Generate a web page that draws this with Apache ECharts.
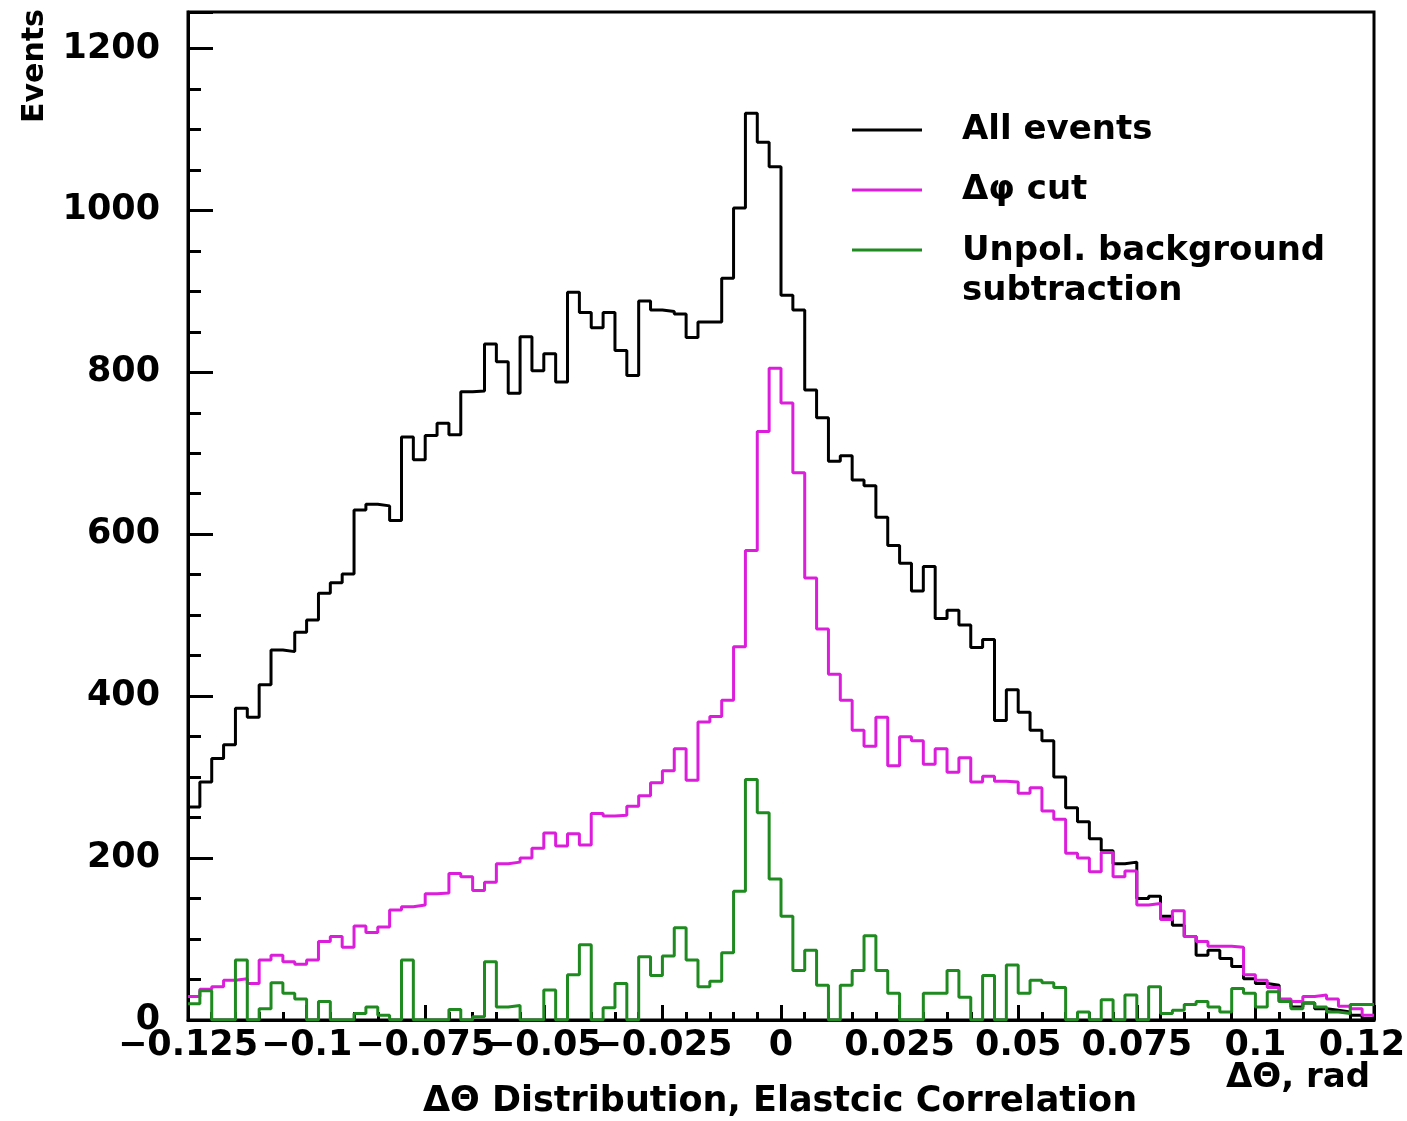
<!DOCTYPE html>
<html>
<head>
<meta charset="utf-8">
<script src="https://cdn.jsdelivr.net/npm/echarts@6/dist/echarts.min.js"></script>
<style>
html,body{margin:0;padding:0;background:#fff;}
#chart{width:1407px;height:1121px;}
</style>
</head>
<body>
<div id="chart"></div>
<script>
// Histogram range (100 bins)
const histMin = -0.125;
const histMax = 0.125;
const xTickLabels = ['\u22120.125','\u22120.1','\u22120.075','\u22120.05','\u22120.025','0','0.025','0.05','0.075','0.1','0.125'];
const yTickLabels = ['0','200','400','600','800','1000','1200'];

const allEvents = [
 263,294,323,340,385,374,414,457,455,479,
 494,527,540,551,630,637,635,617,720,692,
 722,737,723,776,777,835,813,774,844,802,
 823,788,899,874,855,874,827,796,888,877,
 875,872,843,862,862,916,1003,1120,1084,1054,
 895,877,778,744,690,697,667,660,621,586,
 564,530,560,496,506,488,460,470,370,408,
 380,358,345,300,262,245,224,209,193,195,
 150,153,128,117,103,80,86,76,66,51,
 45,43,23,16,21,14,12,10,6,2
];
const phiCut = [
 29,38,41,49,51,45,74,80,72,69,
 74,97,103,90,116,108,115,136,140,142,
 156,157,181,177,160,170,193,195,200,212,
 231,215,230,216,255,252,253,264,277,293,
 308,335,296,368,375,395,461,580,727,805,
 762,676,546,483,427,395,358,338,374,314,
 350,345,316,335,306,324,294,301,295,294,
 280,287,258,248,206,200,183,207,177,184,
 142,144,124,135,103,97,91,91,90,56,
 49,40,26,23,29,31,26,17,14,6
];
const unpolBg = [
 20,36,0,0,74,0,14,46,33,26,
 0,23,0,0,8,16,6,0,74,0,
 0,0,13,0,4,72,16,18,0,0,
 37,0,56,93,0,15,45,0,78,55,
 79,114,74,41,48,83,159,297,256,174,
 128,61,86,43,0,43,61,104,61,33,
 0,0,33,33,61,28,0,55,0,68,
 33,49,46,40,0,10,0,25,0,31,
 0,41,8,12,19,23,16,10,39,33,
 16,35,23,14,21,16,10,8,19,19
];

const seriesNames = ['All events', '\u0394\u03c6 cut', 'Unpol. background'];
const seriesColors = ['#000000', '#dc1edc', '#1f8a1f'];

function toSteps(vals) {
  const n = vals.length;
  const w = (histMax - histMin) / n;
  const pts = vals.map((v, i) => [histMin + i * w, v]);
  pts.push([histMax, vals[n - 1]]);
  return pts;
}

const FONT = 'DejaVu Sans';
const chart = echarts.init(document.getElementById('chart'));
const yMax = 1245;

chart.setOption({
  animation: false,
  backgroundColor: '#fff',
  grid: { left: 188, right: 33, top: 12, bottom: 101, containLabel: false, outerBoundsMode: 'none', show: true, borderColor: '#000', borderWidth: 3, backgroundColor: 'transparent' },
  xAxis: {
    type: 'value', min: histMin, max: histMax, interval: 0.025,
    axisLine: { show: true, onZero: false, lineStyle: { color: '#000', width: 3 } },
    axisTick: { show: true, inside: true, length: 15, lineStyle: { color: '#000', width: 3 } },
    minorTick: { show: true, splitNumber: 5, length: 8, lineStyle: { color: '#000', width: 3 } },
    splitLine: { show: false },
    axisLabel: {
      show: true, margin: 8, color: '#000', fontFamily: FONT, fontWeight: 'bold', fontSize: 35,
      showMinLabel: true, showMaxLabel: true, hideOverlap: false,
      formatter: function (v) {
        const k = Math.round((v - histMin) / 0.025);
        return xTickLabels[k] !== undefined ? xTickLabels[k] : '';
      }
    }
  },
  yAxis: [{
    type: 'value', min: 0, max: yMax, interval: 200,
    axisLine: { show: true, onZero: false, lineStyle: { color: '#000', width: 3 } },
    axisTick: { show: true, inside: true, length: 25, lineStyle: { color: '#000', width: 3 } },
    splitLine: { show: false },
    axisLabel: {
      margin: 28, color: '#000', fontFamily: FONT, fontWeight: 'bold', fontSize: 35,
      formatter: function (v) {
        const k = Math.round(v / 200);
        return (Math.abs(v - k * 200) < 1e-6 && yTickLabels[k] !== undefined) ? yTickLabels[k] : '';
      }
    }
  }, {
    type: 'value', min: 0, max: yMax, interval: 50, position: 'left', offset: 0,
    axisLine: { show: false, onZero: false },
    axisTick: { show: true, inside: true, length: 13, lineStyle: { color: '#000', width: 3 } },
    axisLabel: { show: false },
    splitLine: { show: false }
  }],
  series: [0, 1, 2].map(function (k) {
    const vals = [allEvents, phiCut, unpolBg][k];
    return {
      name: seriesNames[k], type: 'line', step: 'end', symbol: 'none',
      data: toSteps(vals), yAxisIndex: 0, clip: true,
      lineStyle: { color: seriesColors[k], width: 3 }, z: 3 + k
    };
  }),
  graphic: [
    { type: 'line', shape: { x1: 852, y1: 130, x2: 922, y2: 130 }, style: { stroke: seriesColors[0], lineWidth: 3 } },
    { type: 'line', shape: { x1: 852, y1: 190, x2: 922, y2: 190 }, style: { stroke: seriesColors[1], lineWidth: 3 } },
    { type: 'line', shape: { x1: 852, y1: 250, x2: 922, y2: 250 }, style: { stroke: seriesColors[2], lineWidth: 3 } },
    { type: 'text', left: 962, top: 113, style: { text: 'All events', font: 'bold 34px "DejaVu Sans"', fill: '#000' } },
    { type: 'text', left: 962, top: 173, style: { text: '\u0394\u03c6 cut', font: 'bold 34px "DejaVu Sans"', fill: '#000' } },
    { type: 'text', left: 962, top: 234, style: { text: 'Unpol. background', font: 'bold 34px "DejaVu Sans"', fill: '#000' } },
    { type: 'text', left: 962, top: 274, style: { text: 'subtraction', font: 'bold 34px "DejaVu Sans"', fill: '#000' } },
    { type: 'text', x: 35, y: 66, rotation: Math.PI / 2, style: { text: 'Events', font: 'bold 30px "DejaVu Sans"', fill: '#000', textAlign: 'center', textVerticalAlign: 'middle' } },
    { type: 'text', x: 1370, y: 1078, style: { text: '\u0394\u0398, rad', font: 'bold 34px "DejaVu Sans"', fill: '#000', textAlign: 'right', textVerticalAlign: 'middle' } },
    { type: 'text', x: 780, y: 1102, style: { text: '\u0394\u0398 Distribution, Elastcic Correlation', font: 'bold 35px "DejaVu Sans"', fill: '#000', textAlign: 'center', textVerticalAlign: 'middle' } }
  ]
});
</script>
</body>
</html>
